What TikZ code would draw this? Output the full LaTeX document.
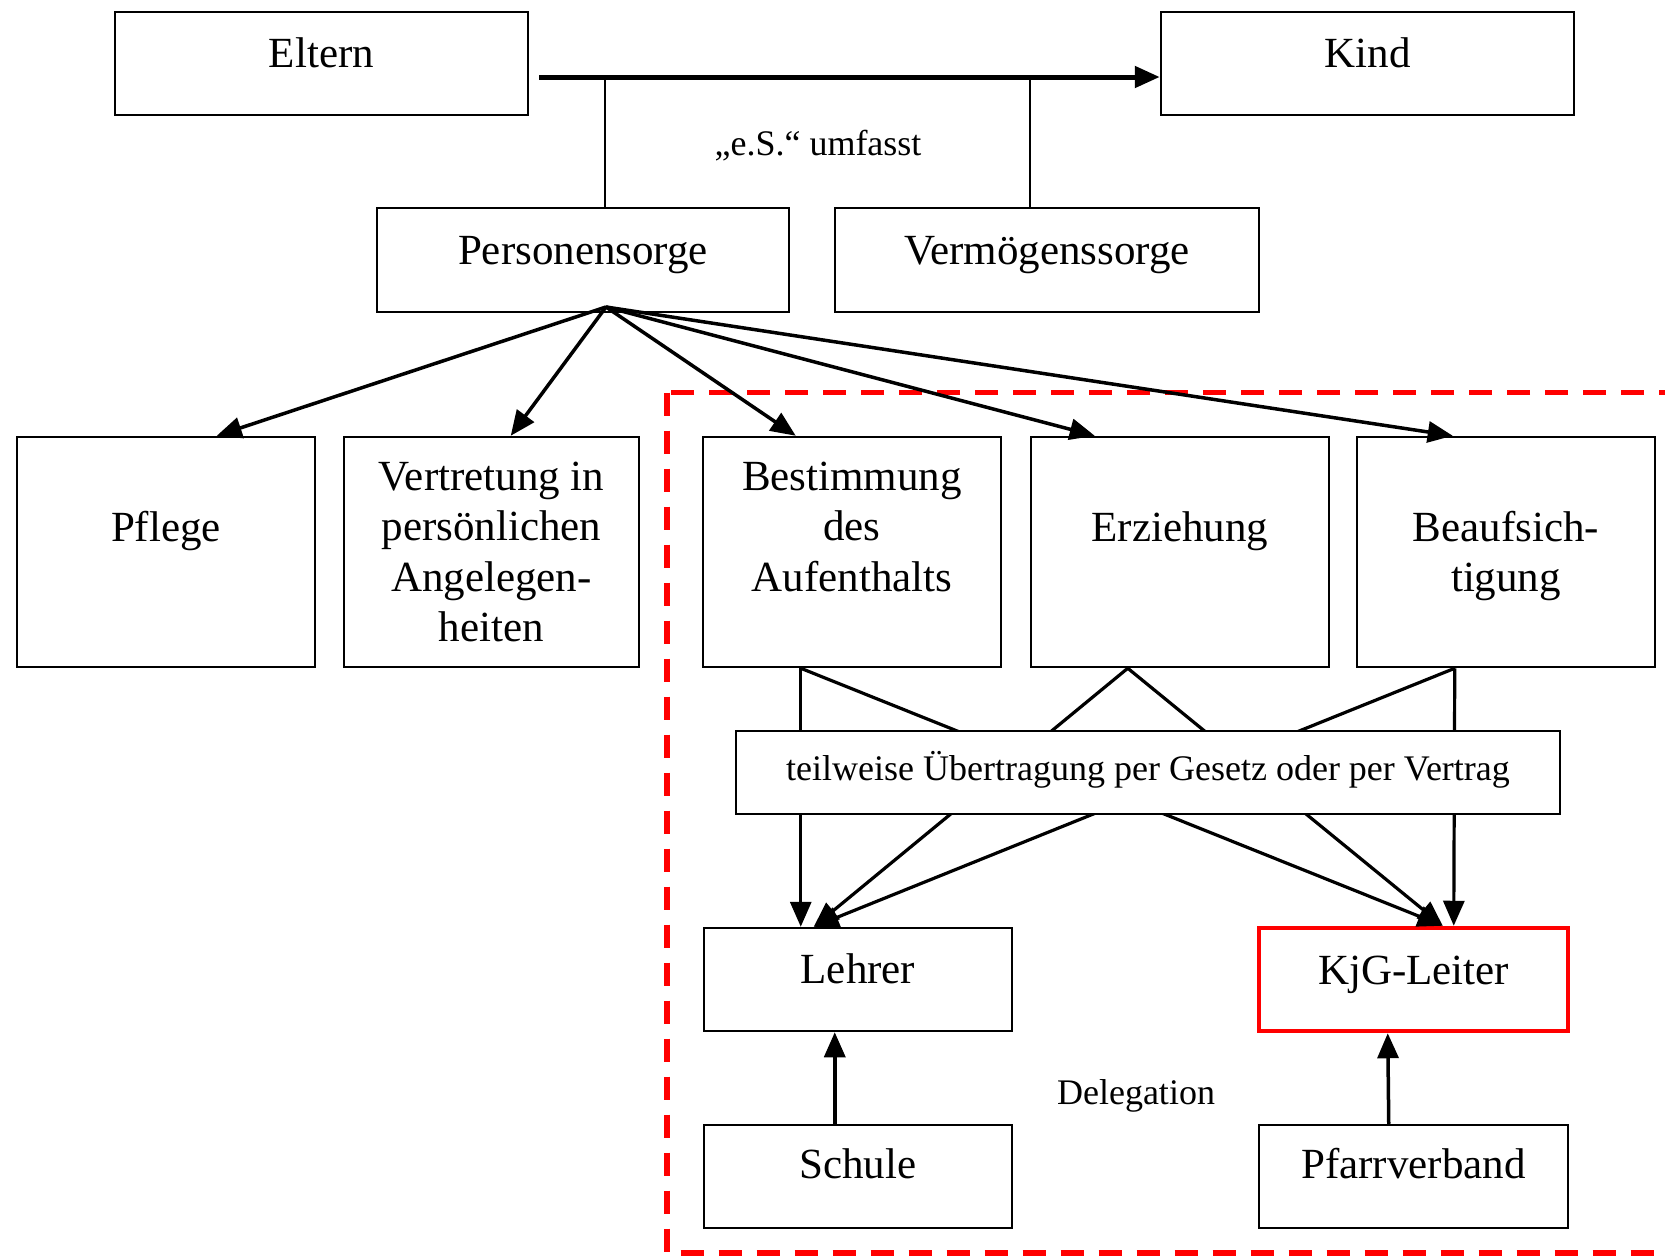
\documentclass[tikz,border=0pt]{standalone}
\usepackage{fontspec}
\setmainfont{Liberation Serif}
\usetikzlibrary{arrows.meta}
\begin{document}
\begin{tikzpicture}[x=1pt,y=-1pt,
  box/.style={draw, line width=2.5pt, rectangle, inner sep=0pt, fill=white},
  big/.style={font=\fontsize{43}{50.5}\selectfont, inner sep=0pt, align=center},
  small/.style={font=\fontsize{36}{42}\selectfont, inner sep=0pt},
  arr/.style={-{Triangle[length=25pt,width=21pt]}, line width=3.5pt},
  thinline/.style={line width=2pt},
  lowarr/.style={-{Triangle[length=25pt,width=21pt]}, line width=3.2pt},
  redbox/.style={draw=red, line width=5.5pt, dash pattern=on 23pt off 15pt}
]
\fill[white] (0,0) rectangle (1665,1256);
\clip (0,0) rectangle (1665,1256);

% red dashed frame
\draw[redbox] (667,392.5) rectangle (1720,1253);

% boxes
\node[box, minimum width=413pt, minimum height=103pt] (eltern) at (321.5,63.5) {};
\node[box, minimum width=413pt, minimum height=103pt] (kind) at (1367.5,63.5) {};
\node[box, minimum width=412pt, minimum height=104pt] (personen) at (583,260) {};
\node[box, minimum width=424pt, minimum height=104pt] (vermoegen) at (1047,260) {};
\node[box, minimum width=298pt, minimum height=230pt] (pflege) at (166,552) {};
\node[box, minimum width=295pt, minimum height=230pt] (vertretung) at (491.5,552) {};
\node[box, minimum width=298pt, minimum height=230pt] (bestimmung) at (852,552) {};
\node[box, minimum width=298pt, minimum height=230pt] (erziehung) at (1180,552) {};
\node[box, minimum width=298pt, minimum height=230pt] (beauf) at (1506,552) {};
\node[box, minimum width=308pt, minimum height=103pt] (lehrer) at (858,979.5) {};
\node[box, draw=red, line width=4.5pt, minimum width=309pt, minimum height=103pt] (kjg) at (1413.5,979.5) {};
\node[box, minimum width=308pt, minimum height=103pt] (schule) at (858,1176.5) {};
\node[box, minimum width=309pt, minimum height=103pt] (pfarr) at (1413.5,1176.5) {};

% texts
\node[big, anchor=base] (tEltern) at (321.5,67) {Eltern};
\node[big, anchor=base] (tKind) at (1367.5,67) {Kind};
\node[small, anchor=base] (tES) at (818,155) {„e.S.“ umfasst};
\node[big, anchor=base] (tPers) at (583,264) {Personensorge};
\node[big, anchor=base] (tVerm) at (1047,264) {Vermögenssorge};
\node[big, anchor=base] (tPflege) at (166,541) {Pflege};
\node[big, anchor=north] (tVert) at (491.5,454.6) {\strut Vertretung in\\persönlichen\\Angelegen-\\heiten};
\node[big, anchor=north] (tBest) at (852,454.6) {\strut Bestimmung\\des\\Aufenthalts};
\node[big, anchor=base] (tErz) at (1180,541) {Erziehung};
\node[big, anchor=north] (tBeauf) at (1506,505.6) {\strut Beaufsich-\\tigung};
\node[big, anchor=base] (tLehrer) at (858,983) {Lehrer};
\node[big, anchor=base] (tKjg) at (1413.5,984) {KjG-Leiter};
\node[big, anchor=base] (tSchule) at (858,1178) {Schule};
\node[big, anchor=base] (tPfarr) at (1413.5,1178) {Pfarrverband};
\node[small, anchor=base] (tDeleg) at (1136,1104) {Delegation};

% top connectors
\coordinate (mstart) at (539,77);
\coordinate (psx) at (605,0);
\coordinate (vsx) at (1030,0);
\draw[thinline] (personen.north -| psx) -- (mstart -| psx);
\draw[thinline] (vermoegen.north -| vsx) -- (mstart -| vsx);
\draw[arr, line width=5pt] (mstart) -- (mstart -| kind.west);

% Personensorge fan
\coordinate (po) at (606,307);
\draw[arr] (po) -- ([xshift=201pt]pflege.north west);
\draw[arr] (po) -- ([xshift=168pt]vertretung.north west);
\draw[arr] (po) -- ([xshift=94pt]bestimmung.north west);
\draw[arr] (po) -- ([xshift=65pt]erziehung.north west);
\draw[arr] (po) -- ([xshift=97pt]beauf.north west);

% lower fan (passes behind the transfer box)
\coordinate (bA) at ([xshift=99pt]bestimmung.south west);
\coordinate (eA) at ([xshift=98pt]erziehung.south west);
\coordinate (fA) at ([xshift=99pt]beauf.south west);
\draw[lowarr] (bA) -- ([xshift=98pt]lehrer.north west);
\draw[lowarr] (eA) -- ([xshift=111pt]lehrer.north west);
\draw[lowarr] (fA) -- ([xshift=111pt]lehrer.north west);
\draw[lowarr] (bA) -- ([xshift=186pt]kjg.north west);
\draw[lowarr] (eA) -- ([xshift=186pt]kjg.north west);
\draw[lowarr] (fA) -- ([xshift=197pt]kjg.north west);

% transfer box on top
\node[box, minimum width=824pt, minimum height=83pt] (teil) at (1148,772.5) {};
\node[small, anchor=base] (tTeil) at (1148,780) {teilweise Übertragung per Gesetz oder per Vertrag};

% delegation arrows
\draw[arr] ([xshift=132pt]schule.north west) -- ([xshift=132pt]lehrer.south west);
\draw[arr] ([xshift=131pt]pfarr.north west) -- ([xshift=131pt]kjg.south west);
\end{tikzpicture}
\end{document}
